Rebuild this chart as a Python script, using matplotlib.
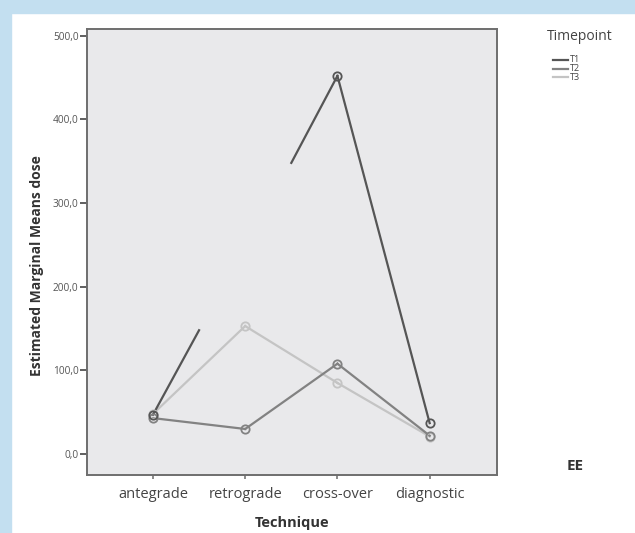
import numpy as np
import matplotlib.pyplot as plt
from matplotlib.patches import Rectangle

plt.rcParams['font.family'] = ['Open Sans', 'DejaVu Sans']

techniques = ['antegrade', 'retrograde', 'cross-over', 'diagnostic']
y_ticks = [0, 100, 200, 300, 400, 500]
y_labels = ['0,0', '100,0', '200,0', '300,0', '400,0', '500,0']

# estimated marginal means per timepoint (nan = not drawn)
t1 = [47, np.nan, 452, 37]
t2 = [43, 30, 108, 22]
t3 = [48, 153, 85, 21]

# partial T1 segments as they appear in the picture
t1_stub1_x = [0, 0.5]
t1_stub1_y = [47, 148]
t1_stub2_x = [1.5, 2]
t1_stub2_y = [348, 452]

series = [('T1', t1, '#555555'), ('T2', t2, '#828282'), ('T3', t3, '#c4c4c4')]

fig = plt.figure(figsize=(6.35, 5.33), dpi=100)
fig.patch.set_facecolor('white')

# light blue frame on left and top
fig.patches.append(Rectangle((0, 0), 11/635, 1, transform=fig.transFigure,
                             color='#c3dff0', zorder=0))
fig.patches.append(Rectangle((0, 1 - 13/533), 1, 13/533, transform=fig.transFigure,
                             color='#c3dff0', zorder=0))

ax = fig.add_axes([87/635, 58/533, 410/635, 446/533])
ax.set_facecolor('#e9e9eb')

x = np.arange(len(techniques))
for name, vals, col in series[::-1]:
    vals = np.array(vals, dtype=float)
    ok = ~np.isnan(vals)
    # draw consecutive non-missing segments
    for i in range(len(vals) - 1):
        if ok[i] and ok[i + 1]:
            ax.plot(x[i:i+2], vals[i:i+2], color=col, lw=1.6, zorder=2)
    ax.plot(x[ok], vals[ok], 'o', ms=6, mfc='none', mec=col, mew=1.3, zorder=3)

ax.plot(t1_stub1_x, t1_stub1_y, color='#555555', lw=1.6, zorder=2)
ax.plot(t1_stub2_x, t1_stub2_y, color='#555555', lw=1.6, zorder=2)

ax.set_xlim(-0.715, 3.73)
ax.set_ylim(-25, 508)

ax.set_xticks(x)
ax.set_xticklabels(techniques, fontsize=10.5, color='#444444')
ax.set_yticks(y_ticks)
ax.set_yticklabels(y_labels, fontsize=7.3, color='#555555')
ax.tick_params(axis='y', length=5, width=1.2, color='#444444', pad=1)
ax.tick_params(axis='x', length=3, width=1.2, color='#777777', pad=6)

for sp in ax.spines.values():
    sp.set_color('#6e6e6e')
    sp.set_linewidth(1.4)

ax.set_xlabel('Technique', fontsize=10.5, fontweight='bold', color='#333333', labelpad=10)
ax.set_ylabel('Estimated Marginal Means dose', fontsize=10, fontweight='bold',
              color='#333333')
ax.yaxis.set_label_coords(-0.105, 0.469)

# legend
fig.text(547/635, 1 - 37/533, 'Timepoint', fontsize=10, color='#444444', va='center')
for k, (name, vals, col) in enumerate(series):
    yy = 1 - (60 + k * 8.5) / 533
    fig.add_artist(plt.Line2D([553/635, 568/635], [yy, yy], transform=fig.transFigure,
                              color=col, lw=1.6))
    fig.text(570/635, yy, name, fontsize=6.5, color='#444444', va='center')

fig.text(567/635, 1 - 466/533, 'EE', fontsize=11, fontweight='bold', color='#333333',
         va='center')

fig.savefig('out.png', dpi=100)
